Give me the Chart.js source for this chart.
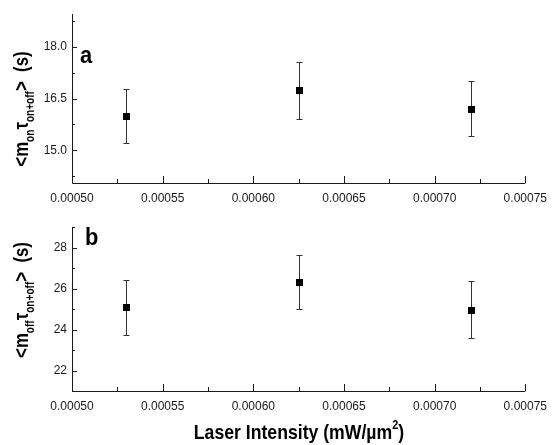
<!DOCTYPE html>
<html><head><meta charset="utf-8">
<script src="https://cdn.jsdelivr.net/npm/chart.js@4/dist/chart.umd.min.js"></script>
<style>
html,body{margin:0;padding:0;background:#fff;}
#wrap{position:relative;width:555px;height:445px;}
canvas{position:absolute;left:0;}
</style></head><body>
<div id="wrap">
<canvas id="cA" width="555" height="215" style="top:0;width:555px;height:215px"></canvas>
<canvas id="cB" width="555" height="230" style="top:215px;width:555px;height:230px"></canvas>
</div>
<script>
// ---- data ----
const intensity = [0.00053, 0.000625, 0.00072];
const onValues = [15.99, 16.74, 16.20];
const onErrors = [0.79, 0.82, 0.80];
const offValues = [25.08, 26.32, 24.97];
const offErrors = [1.35, 1.33, 1.40];
const xTicks = [0.00050, 0.00055, 0.00060, 0.00065, 0.00070, 0.00075];
const xMinorTicks = [0.000525, 0.000575, 0.000625, 0.000675, 0.000725];
const yTicksA = [15.0, 16.5, 18.0];
const yMinorA = [14.25, 15.75, 17.25, 18.75];
const yTicksB = [22, 24, 26, 28];
const yMinorB = [21, 23, 25, 27, 29];

const FONT = "'Liberation Sans', Arial, sans-serif";
const SQUEEZE = 0.84;

function drawSubText(ctx, parts) {
  let x = 0;
  for (const [t, s, dy] of parts) {
    ctx.font = "bold " + s + "px " + FONT;
    ctx.fillText(t, x, dy);
    x += ctx.measureText(t).width;
  }
  return x;
}
function measureParts(ctx, parts) {
  let w = 0;
  for (const [t, s] of parts) { ctx.font = "bold " + s + "px " + FONT; w += ctx.measureText(t).width; }
  return w;
}

function makePlugin(opts) {
  return {
    id: 'custom' + opts.id,
    afterDatasetsDraw(chart) {
      const ctx = chart.ctx;
      const xs = chart.scales.x, ys = chart.scales.y;
      const a = chart.chartArea;
      ctx.save();
      ctx.strokeStyle = '#1a1a1a';
      ctx.lineWidth = 1;
      // axes
      ctx.beginPath();
      ctx.moveTo(a.left + 0.5, a.top);
      ctx.lineTo(a.left + 0.5, a.bottom + 0.5);
      ctx.lineTo(a.right, a.bottom + 0.5);
      ctx.stroke();
      // ticks inward
      ctx.beginPath();
      for (const v of xTicks) { const px = Math.round(xs.getPixelForValue(v)) + 0.5; ctx.moveTo(px, a.bottom); ctx.lineTo(px, a.bottom - 7); }
      for (const v of xMinorTicks) { const px = Math.round(xs.getPixelForValue(v)) + 0.5; ctx.moveTo(px, a.bottom); ctx.lineTo(px, a.bottom - 4); }
      for (const v of opts.yMajor) { const py = Math.round(ys.getPixelForValue(v)) + 0.5; ctx.moveTo(a.left, py); ctx.lineTo(a.left + 5, py); }
      for (const v of opts.yMinor) { const py = Math.round(ys.getPixelForValue(v)) + 0.5; ctx.moveTo(a.left, py); ctx.lineTo(a.left + 3, py); }
      ctx.stroke();
      // error bars
      ctx.strokeStyle = '#333';
      ctx.beginPath();
      opts.values.forEach((v, i) => {
        const px = Math.round(xs.getPixelForValue(intensity[i])) + 0.5;
        const yt = Math.round(ys.getPixelForValue(v + opts.errors[i])) + 0.5;
        const yb = Math.round(ys.getPixelForValue(v - opts.errors[i])) + 0.5;
        ctx.moveTo(px, yt); ctx.lineTo(px, yb);
        ctx.moveTo(px - 3, yt); ctx.lineTo(px + 3, yt);
        ctx.moveTo(px - 3, yb); ctx.lineTo(px + 3, yb);
      });
      ctx.stroke();
      // markers
      ctx.fillStyle = '#000';
      opts.values.forEach((v, i) => {
        const px = xs.getPixelForValue(intensity[i]);
        const py = ys.getPixelForValue(v);
        ctx.fillRect(Math.round(px) - 3, Math.round(py) - 3, 7, 7);
      });
      // panel letter
      ctx.fillStyle = '#000';
      ctx.textBaseline = 'alphabetic';
      ctx.save();
      ctx.translate(opts.letterX, opts.letterY);
      ctx.scale(0.95, 1);
      ctx.font = "bold 23px " + FONT;
      ctx.fillText(opts.letter, 0, 0);
      ctx.restore();
      // y title rotated
      ctx.save();
      ctx.translate(opts.titleX, opts.titleY);
      ctx.rotate(-Math.PI / 2);
      ctx.scale(SQUEEZE, 1);
      const w = measureParts(ctx, opts.titleParts);
      ctx.translate(-w / 2, 0);
      drawSubText(ctx, opts.titleParts);
      ctx.restore();
      // x title
      if (opts.xTitle) {
        const parts = [["Laser Intensity (mW/\u00b5m", 21, 0], ["2", 13, -10], [")", 21, 0]];
        const w2 = measureParts(ctx, parts) * SQUEEZE;
        ctx.save();
        ctx.translate(299 - w2 / 2, opts.xTitleY);
        ctx.scale(SQUEEZE, 1);
        drawSubText(ctx, parts);
        ctx.restore();
      }
      ctx.restore();
    }
  };
}

function makeChart(id, cfg) {
  return new Chart(document.getElementById(id), {
    type: 'scatter',
    data: { datasets: [{ data: intensity.map((x, i) => ({ x: x, y: cfg.values[i] })), pointRadius: 0, showLine: false }] },
    options: {
      responsive: false, animation: false,
      layout: { padding: { left: 0, right: 28, top: cfg.padTop, bottom: 0 } },
      plugins: { legend: { display: false }, tooltip: { enabled: false } },
      scales: {
        x: {
          type: 'linear', min: 0.0005, max: 0.00075,
          afterBuildTicks: s => { s.ticks = xTicks.map(v => ({ value: v })); },
          afterFit: s => { s.height = cfg.xHeight; },
          grid: { display: false, drawTicks: false },
          border: { display: false },
          ticks: { padding: 8, color: '#1a1a1a', font: { family: FONT, size: 12 }, maxRotation: 0, autoSkip: false,
                   callback: v => Number(v).toFixed(5) }
        },
        y: {
          min: cfg.ymin, max: cfg.ymax,
          afterBuildTicks: s => { s.ticks = cfg.yMajor.map(v => ({ value: v })); },
          afterFit: s => { s.width = 72; },
          grid: { display: false, drawTicks: false },
          border: { display: false },
          ticks: { padding: 5, color: '#1a1a1a', font: { family: FONT, size: 12 },
                   callback: v => cfg.yFmt(v) }
        }
      }
    },
    plugins: [makePlugin(cfg)]
  });
}

makeChart('cA', {
  id: 'A', values: onValues, errors: onErrors, ymin: 14.05, ymax: 18.95,
  yMajor: yTicksA, yMinor: yMinorA, yFmt: v => Number(v).toFixed(1),
  padTop: 14, xHeight: 32, letter: 'a', letterX: 80, letterY: 63,
  titleX: 28, titleY: 109,
  titleParts: [["<m", 20, 0], ["on", 12, 6], ["\u03c4", 20, 0], ["on+off", 12, 6], [">  (s)", 20, 0]]
});
makeChart('cB', {
  id: 'B', values: offValues, errors: offErrors, ymin: 21, ymax: 29,
  yMajor: yTicksB, yMinor: yMinorB, yFmt: v => String(v),
  padTop: 5, xHeight: 54, letter: 'b', letterX: 85, letterY: 30,
  titleX: 28, titleY: 85, xTitle: true, xTitleY: 224,
  titleParts: [["<m", 20, 0], ["off", 12, 6], ["\u03c4", 20, 0], ["on+off", 12, 6], [">  (s)", 20, 0]]
});
</script>
</body></html>
